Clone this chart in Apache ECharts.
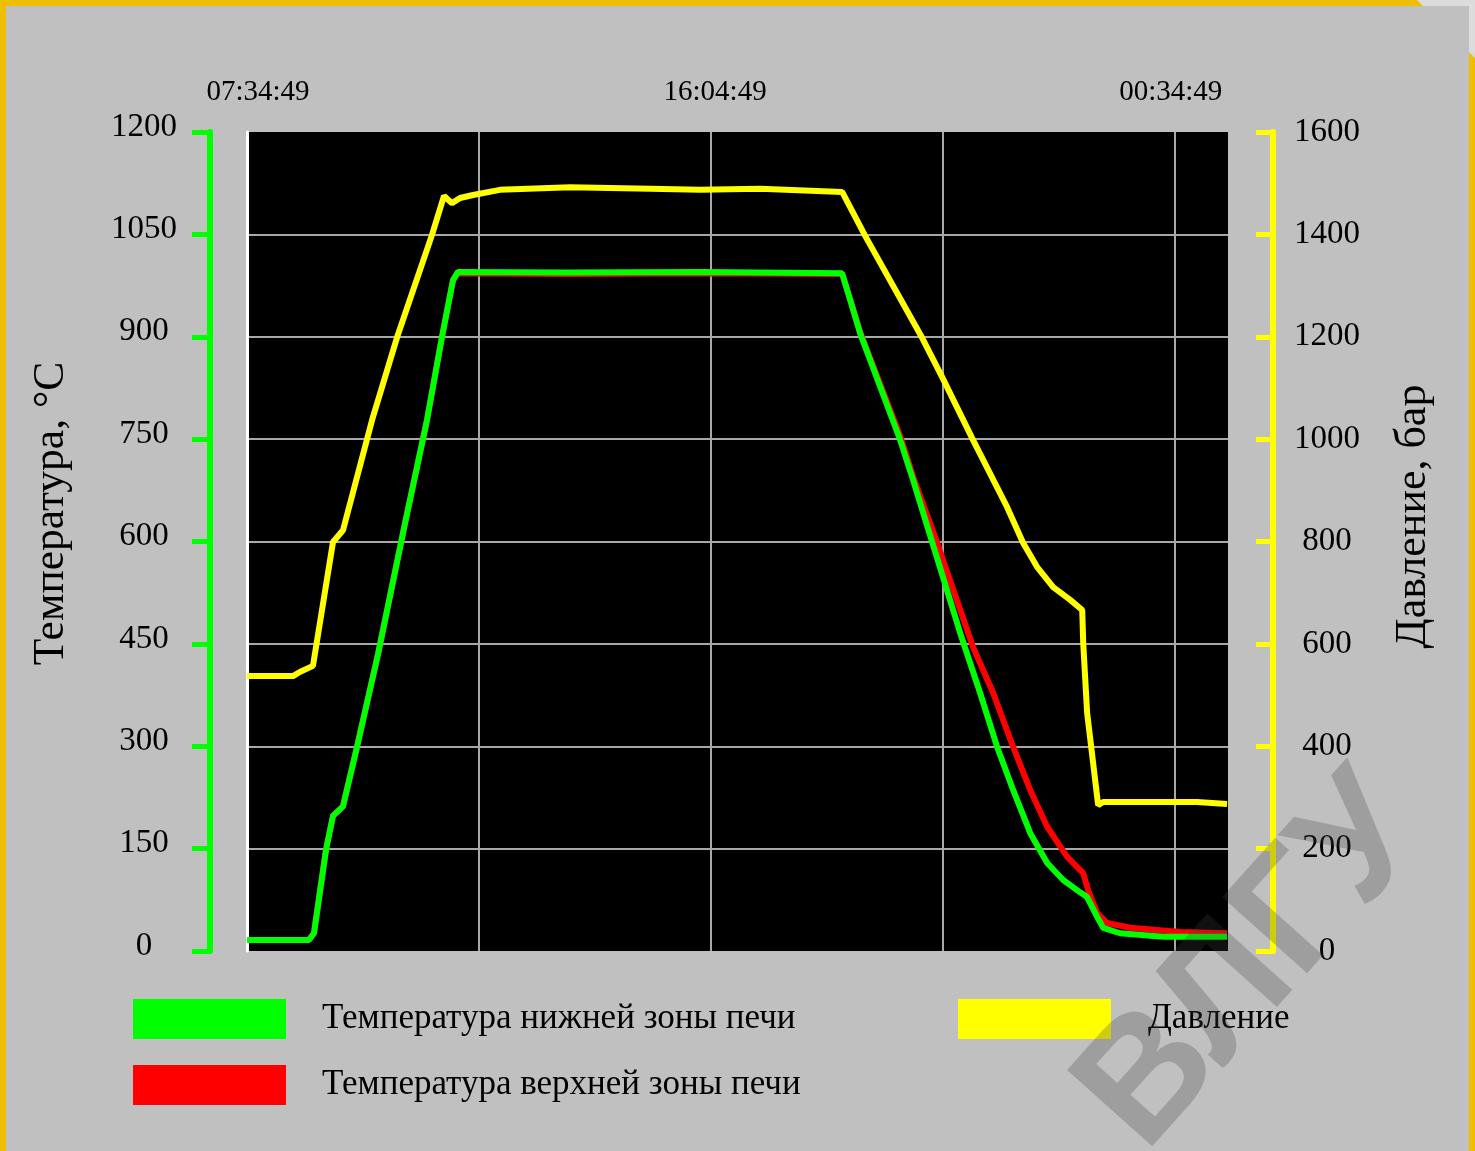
<!DOCTYPE html>
<html>
<head>
<meta charset="utf-8">
<script src="https://cdn.jsdelivr.net/npm/echarts@6/dist/echarts.min.js"></script>
<style>
html,body{margin:0;padding:0;background:#c0c0c0;}
#chart{width:1475px;height:1151px;}
</style>
</head>
<body>
<div id="chart"></div>
<script>
// time in minutes after 07:34:49
const timeTickValues = [0, 510, 1020];
const timeLabels = ['07:34:49', '16:04:49', '00:34:49'];

const pressureTime = [0, 50.6, 58, 72.5, 94.5, 105.5, 137.4, 164.9, 203.3, 216.5, 225.3, 234.1, 248.4, 278, 355, 443, 498, 564, 654, 679.3, 741.9, 763.9, 797.9, 835.3, 852.9, 868.3, 885.9, 904.6, 917.8, 918.9, 923.2, 929.8, 935.3, 940.8, 1044, 1077];
const pressureBar = [537, 537, 545, 557, 799, 822, 1037, 1199, 1399, 1475, 1461, 1471, 1477, 1487, 1492, 1489, 1487, 1489, 1483, 1397, 1198, 1121, 998, 867, 797, 750, 711, 686, 666, 602, 465, 367, 285, 291, 291, 287];

const lowerTime = [0, 68, 73.6, 86.8, 94.5, 105.5, 120.9, 144, 173.7, 197.8, 214.3, 226.4, 231.9, 350, 500, 654, 662.8, 673.8, 717.7, 732, 752.9, 783.7, 805.6, 824.3, 841.9, 860.6, 879.3, 896.9, 915.5, 923.2, 934.2, 940.8, 959.5, 1006.8, 1077];
const lowerTemp = [16, 16, 26, 148, 198, 212, 299, 435, 627, 778, 900, 983, 995, 994, 995, 993, 954, 905, 749, 690, 599, 466, 378, 299, 236, 173, 129, 104, 86, 79, 50, 34, 26, 21, 21];

const upperTime = [0, 68, 73.6, 86.8, 94.5, 105.5, 120.9, 144, 173.7, 197.8, 214.3, 226.4, 231.9, 350, 500, 654, 662.8, 673.8, 717.7, 732, 758.4, 797.9, 820, 841.9, 860.6, 879.3, 901.3, 918.9, 924.3, 934.2, 945.2, 970.5, 1025.5, 1077];
const upperTemp = [16, 16, 26, 148, 198, 212, 299, 435, 627, 778, 900, 983, 993, 992, 993, 992, 955, 907, 755, 695, 598, 445, 378, 299, 236, 182, 138, 114, 89, 56, 41, 34, 28, 26];

const names = {
  lower: 'Температура нижней зоны печи',
  upper: 'Температура верхней зоны печи',
  pressure: 'Давление'
};

function pairs(xs, ys) { return xs.map((x, i) => [x, ys[i]]); }

const serif = 'Liberation Serif';
const chart = echarts.init(document.getElementById('chart'), null, {renderer: 'canvas'});

chart.setOption({
  backgroundColor: '#f0be00',
  animation: false,
  graphic: [
    {type: 'polygon', silent: true, z: -10, shape: {points: [[1417, 0], [1475, 0], [1475, 58]]}, style: {fill: '#dcdcdc'}},
    {type: 'rect', silent: true, z: -9, shape: {x: 6, y: 6, width: 1463, height: 1145}, style: {fill: '#c0c0c0'}},
    {type: 'text', silent: true, z: 100, x: 1254, y: 964, rotation: 0.84,
     style: {text: 'ВЛГУ', font: 'bold 166px "Liberation Sans"', fill: 'rgba(60,60,60,0.26)', align: 'center', verticalAlign: 'middle'}}
  ],
  grid: {left: 247, right: 247, top: 132, bottom: 200, show: true, backgroundColor: '#000', borderWidth: 0},
  legend: [
    {data: [names.lower, names.upper], orient: 'vertical', left: 133, top: 999, padding: 0, itemWidth: 153, itemHeight: 40, itemGap: 26, icon: 'rect',
     textStyle: {fontFamily: serif, fontSize: 35, color: '#000', padding: [0, 0, 0, 31]}},
    {data: [names.pressure], orient: 'vertical', left: 958, top: 999, padding: 0, itemWidth: 153, itemHeight: 40, icon: 'rect',
     textStyle: {fontFamily: serif, fontSize: 35, color: '#000', padding: [0, 0, 0, 32]}}
  ],
  xAxis: {
    type: 'value', position: 'top', min: 0, max: 1078, interval: 255,
    axisLine: {show: false, onZero: false}, axisTick: {show: false},
    axisLabel: {margin: 25, fontFamily: serif, fontSize: 29, color: '#000',
      showMinLabel: true, showMaxLabel: false, hideOverlap: false,
      formatter: v => {
        const i = timeTickValues.indexOf(Math.round(v));
        if (i < 0) return '';
        return '{t' + i + '|' + timeLabels[i] + '}';
      },
      rich: {
        t0: {fontFamily: serif, fontSize: 29, color: '#000', padding: [0, 0, 0, 22]},
        t1: {fontFamily: serif, fontSize: 29, color: '#000', padding: [0, 0, 0, 8]},
        t2: {fontFamily: serif, fontSize: 29, color: '#000', padding: [0, 9, 0, 0]}
      }},
    splitLine: {show: true, showMinLine: false, showMaxLine: false, lineStyle: {color: '#a8a8a8', width: 2}}
  },
  yAxis: [
    {
      type: 'value', position: 'left', min: 0, max: 1200, interval: 150, offset: 37,
      name: 'Температура, °С', nameLocation: 'middle', nameGap: 136, nameRotate: 90,
      nameTextStyle: {fontFamily: serif, fontSize: 43.5, color: '#000', padding: [0, 0, 0, 56]},
      axisLine: {show: true, onZero: false, lineStyle: {color: '#00ff00', width: 6}},
      axisTick: {show: true, inside: false, length: 18, lineStyle: {color: '#00ff00', width: 5}},
      axisLabel: {margin: 66, align: 'center', fontFamily: serif, fontSize: 33, color: '#000',
        formatter: v => '{a|' + v + '}',
        rich: {a: {fontFamily: serif, fontSize: 33, color: '#000', padding: [0, 0, 10, 0]}}},
      splitLine: {show: true, showMinLine: false, showMaxLine: false, lineStyle: {color: '#a8a8a8', width: 2}}
    },
    {
      type: 'value', position: 'right', min: 0, max: 1600, interval: 200, offset: 45,
      name: 'Давление, бар', nameLocation: 'middle', nameGap: 118, nameRotate: 90,
      nameTextStyle: {fontFamily: serif, fontSize: 44, color: '#000', padding: [0, 0, 0, 50]},
      axisLine: {show: true, onZero: false, lineStyle: {color: '#ffff00', width: 6}},
      axisTick: {show: true, inside: true, length: 17, lineStyle: {color: '#ffff00', width: 5}},
      axisLabel: {margin: 54, align: 'center', fontFamily: serif, fontSize: 33, color: '#000',
        formatter: v => String(v)},
      splitLine: {show: false}
    },
    {
      type: 'value', position: 'left', min: 0, max: 1200, offset: 0,
      axisLine: {show: true, onZero: false, lineStyle: {color: '#ffffff', width: 3}},
      axisTick: {show: false}, axisLabel: {show: false}, splitLine: {show: false}
    }
  ],
  series: [
    {name: names.pressure, type: 'line', yAxisIndex: 1, data: pairs(pressureTime, pressureBar), showSymbol: false, symbol: 'none',
     color: '#ffff00', lineStyle: {color: '#ffff00', width: 6}},
    {name: names.upper, type: 'line', yAxisIndex: 0, data: pairs(upperTime, upperTemp), showSymbol: false, symbol: 'none',
     color: '#ff0000', lineStyle: {color: '#ff0000', width: 6}},
    {name: names.lower, type: 'line', yAxisIndex: 0, data: pairs(lowerTime, lowerTemp), showSymbol: false, symbol: 'none',
     color: '#00ff00', lineStyle: {color: '#00ff00', width: 6}}
  ]
});
</script>
</body>
</html>
